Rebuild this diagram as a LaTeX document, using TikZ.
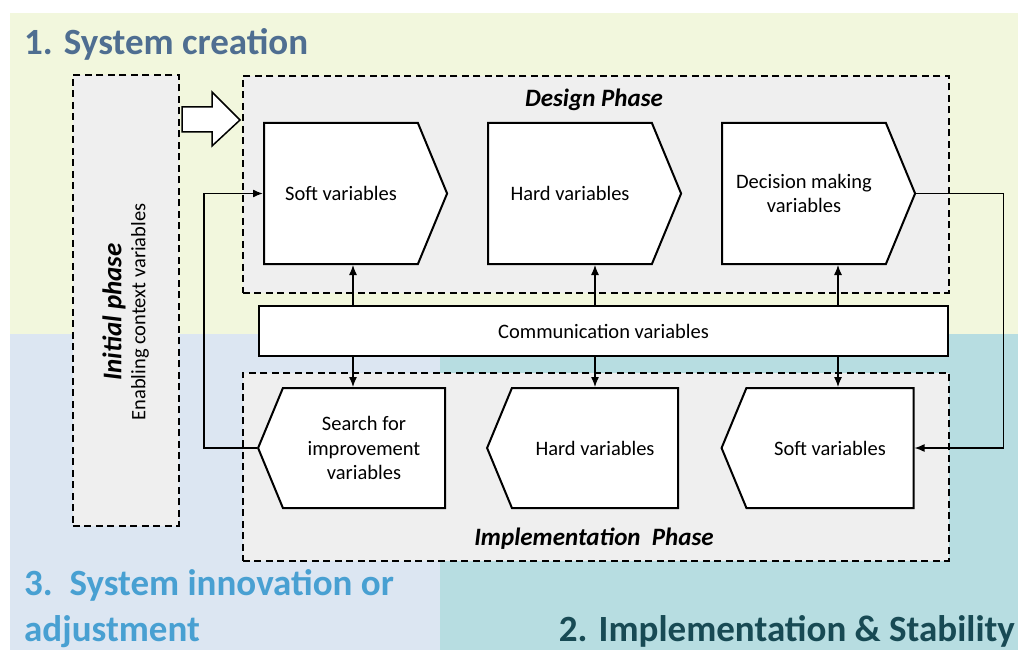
\documentclass[tikz,border=0pt]{standalone}
\usepackage{fontspec}
\setmainfont{Carlito}
\usetikzlibrary{shapes.symbols, arrows.meta, positioning, calc}
\definecolor{creationbg}{RGB}{242,247,221}
\definecolor{innovationbg}{RGB}{220,230,242}
\definecolor{stabilitybg}{RGB}{183,221,225}
\definecolor{phasegray}{RGB}{239,239,239}
\definecolor{creationtext}{RGB}{79,110,145}
\definecolor{innovationtext}{RGB}{72,160,210}
\definecolor{stabilitytext}{RGB}{24,74,84}

\begin{document}
\begin{tikzpicture}[
    x=1pt, y=-1pt,
    phase/.style={draw, fill=phasegray, line width=1.6pt, dash pattern=on 7pt off 4.5pt, inner sep=0pt, anchor=north west},
    varbox/.style={shape=signal, draw, fill=white, line width=2pt, signal pointer angle=135, inner sep=0pt, align=center, font=\fontsize{20.5}{24.5}\selectfont},
    title/.style={font=\fontsize{37}{46}\selectfont\bfseries, inner sep=0pt, align=left},
    phasetitle/.style={font=\fontsize{25}{28}\selectfont\bfseries\itshape},
    link/.style={line width=1.2pt, -{Latex[length=10pt,width=8pt]}}
]
    \useasboundingbox (0,0) rectangle (1018,650);
    % Backgrounds
    \fill[white] (0,0) rectangle (1018,650);
    \fill[creationbg] (10,13) rectangle (1018,334);
    \fill[innovationbg] (10,334) rectangle (440,650);
    \fill[stabilitybg] (440,334) rectangle (1018,650);

    % Titles
    \node[title, text=creationtext, anchor=base west] (creation) at (24,55) {1. System creation};
    \node[title, text=innovationtext, anchor=base west] (innovation) at (24,641) {3.\ \ System innovation or\\adjustment};
    \node[title, text=stabilitytext, anchor=base east] (stability) at (1015,641) {2. Implementation \& Stability};

    % Initial phase
    \node[phase, minimum width=106pt, minimum height=451pt] (initial) at (72,74) {};
    \node[rotate=90, font=\fontsize{27}{30}\selectfont\bfseries\itshape] (initialtitle) at (114,312) {Initial phase};
    \node[rotate=90, font=\fontsize{20.5}{24}\selectfont] (initialtext) at (140,312) {Enabling context variables};
    \draw[fill=white, line width=1.5pt] (182,107) -- (212,107) -- (212,92) -- (240,120) -- (212,146) -- (212,132) -- (182,132) -- cycle;

    % Design Phase
    \node[phase, minimum width=706pt, minimum height=217pt] (design) at (242,75) {};
    \node[phasetitle] (designtitle) at (594,100) {Design Phase};
    \node[varbox, signal to=east, minimum width=183pt, minimum height=141pt] (softD) at (341,193.5) {Soft variables};
    \node[varbox, signal to=east, minimum width=193pt, minimum height=141pt] (hardD) at (570,193.5) {Hard variables};
    \node[varbox, signal to=east, minimum width=193pt, minimum height=141pt] (decisionD) at (804,193.5) {Decision making\\variables};

    % Communication
    \node[draw, fill=white, line width=2pt, anchor=north west, minimum width=689pt, minimum height=50pt, font=\fontsize{20.5}{24}\selectfont] (comm) at (258,305) {Communication variables};

    % Implementation Phase
    \node[phase, minimum width=706pt, minimum height=188pt] (impl) at (242,372) {};
    \node[phasetitle] (impltitle) at (594,539) {Implementation\ \ Phase};
    \node[varbox, signal to=west, minimum width=187pt, minimum height=120pt] (searchI) at (364,448) {Search for\\improvement\\variables};
    \node[varbox, signal to=west, minimum width=191pt, minimum height=120pt] (hardI) at (595,448) {Hard variables};
    \node[varbox, signal to=west, minimum width=192pt, minimum height=120pt] (softI) at (830,448) {Soft variables};

    % Links through communication
    \coordinate (upA) at ([xshift=-250.5pt]comm.center);
    \coordinate (upB) at ([xshift=-8.5pt]comm.center);
    \coordinate (upC) at ([xshift=234.5pt]comm.center);
    \draw[link] (comm.north -| upA) -- (upA |- softD.south);
    \draw[link] (comm.south -| upA) -- (upA |- searchI.north);
    \draw[link] (comm.north -| upB) -- (upB |- hardD.south);
    \draw[link] (comm.south -| upB) -- (upB |- hardI.north);
    \draw[link] (comm.north -| upC) -- (upC |- decisionD.south);
    \draw[link] (comm.south -| upC) -- (upC |- softI.north);

    % Loops
    \draw[link] (decisionD.east) -- ++(87,0) |- (softI.east);
    \draw[link, line width=1.8pt] (searchI.west) -- ++(-53,0) |- (softD.west);
\end{tikzpicture}
\end{document}
